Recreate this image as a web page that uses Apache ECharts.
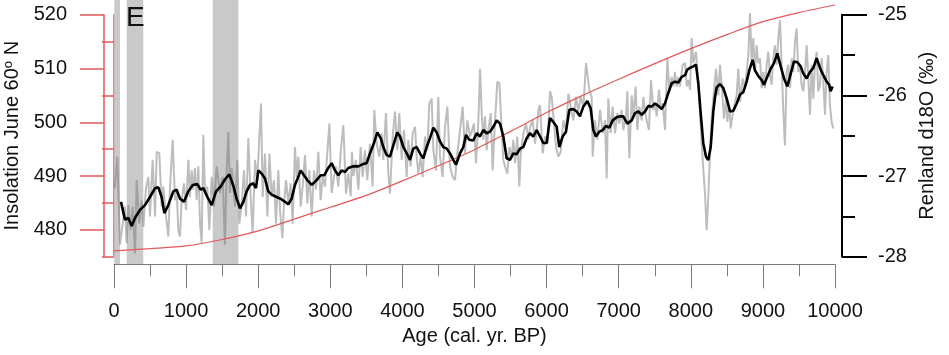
<!DOCTYPE html>
<html>
<head>
<meta charset="utf-8">
<script src="https://cdn.jsdelivr.net/npm/echarts@6/dist/echarts.min.js"></script>
<style>
html,body{margin:0;padding:0;background:#fff;}
#chart{width:949px;height:355px;}
</style>
</head>
<body>
<div id="chart"></div>
<script>
// ---- Data ----
var insolAge = [0,500,1000,1500,2000,2500,3000,3500,4000,4500,5000,5500,6000,6500,7000,7500,8000,8500,9000,9500,10000];
var insolVal = [476.1,476.5,477.0,478.2,479.8,482.0,484.2,486.4,489.1,491.9,494.9,498.3,501.8,505.0,508.0,510.9,513.7,516.3,518.7,520.4,521.8];

var smoothAge = [97,152,199,245,291,360,430,499,569,615,661,698,753,823,869,915,971,1031,1092,1156,1202,1239,1295,1355,1415,1480,1540,1599,1655,1701,1748,1794,1840,1886,1932,1969,2002,2048,2094,2140,2187,2256,2326,2372,2418,2464,2510,2556,2589,2635,2681,2742,2811,2867,2917,2972,3019,3065,3111,3158,3204,3250,3319,3388,3458,3504,3550,3606,3652,3699,3735,3782,3828,3874,3929,3967,4013,4060,4105,4151,4198,4244,4290,4337,4383,4429,4476,4521,4567,4614,4660,4706,4743,4799,4845,4882,4928,4983,5031,5076,5122,5169,5215,5261,5308,5354,5400,5446,5492,5538,5585,5631,5677,5724,5770,5816,5863,5909,5954,6001,6047,6093,6140,6176,6223,6269,6315,6370,6417,6463,6509,6565,6611,6648,6685,6731,6778,6824,6870,6917,6972,7018,7064,7120,7180,7226,7272,7319,7365,7411,7458,7504,7550,7596,7642,7688,7735,7781,7827,7874,7920,7951,7989,8035,8072,8104,8137,8173,8211,8243,8276,8312,8336,8359,8405,8451,8498,8544,8590,8637,8683,8728,8775,8811,8858,8890,8936,8983,9015,9061,9108,9154,9200,9247,9293,9339,9386,9431,9478,9524,9561,9607,9653,9699,9746,9792,9838,9884,9920,9939,9966];
var smoothVal = [-27.32,-27.54,-27.52,-27.62,-27.52,-27.42,-27.36,-27.26,-27.15,-27.14,-27.26,-27.46,-27.36,-27.19,-27.17,-27.28,-27.32,-27.19,-27.11,-27.10,-27.17,-27.15,-27.26,-27.36,-27.19,-27.13,-27.04,-26.98,-27.12,-27.28,-27.40,-27.32,-27.19,-27.11,-27.09,-27.15,-26.93,-26.97,-27.03,-27.19,-27.23,-27.26,-27.29,-27.32,-27.35,-27.28,-27.11,-27.01,-26.93,-26.99,-27.05,-27.11,-27.05,-26.99,-26.99,-26.90,-26.84,-26.93,-26.99,-26.93,-26.95,-26.90,-26.88,-26.88,-26.85,-26.84,-26.72,-26.59,-26.46,-26.53,-26.64,-26.74,-26.76,-26.62,-26.46,-26.51,-26.64,-26.72,-26.80,-26.66,-26.64,-26.72,-26.78,-26.64,-26.53,-26.40,-26.46,-26.57,-26.64,-26.66,-26.72,-26.80,-26.86,-26.72,-26.64,-26.49,-26.55,-26.56,-26.47,-26.51,-26.43,-26.47,-26.45,-26.39,-26.31,-26.35,-26.51,-26.78,-26.80,-26.72,-26.73,-26.66,-26.64,-26.53,-26.47,-26.51,-26.43,-26.51,-26.59,-26.59,-26.28,-26.33,-26.39,-26.64,-26.51,-26.45,-26.18,-26.17,-26.20,-26.26,-26.14,-26.07,-26.16,-26.43,-26.51,-26.45,-26.43,-26.38,-26.40,-26.31,-26.27,-26.26,-26.26,-26.35,-26.31,-26.22,-26.20,-26.24,-26.20,-26.13,-26.14,-26.10,-26.13,-26.17,-26.10,-25.97,-25.85,-25.83,-25.84,-25.77,-25.75,-25.68,-25.66,-25.64,-25.62,-25.85,-26.22,-26.59,-26.76,-26.80,-26.64,-26.20,-26.02,-25.90,-25.86,-25.91,-26.04,-26.20,-26.19,-26.10,-25.99,-25.96,-25.83,-25.69,-25.56,-25.69,-25.76,-25.81,-25.87,-25.77,-25.67,-25.60,-25.48,-25.64,-25.79,-25.89,-25.73,-25.58,-25.59,-25.64,-25.73,-25.79,-25.71,-25.66,-25.54,-25.66,-25.75,-25.83,-25.87,-25.95,-25.89];

var rawAge = [10,46,83,152,176,199,231,259,291,314,351,384,407,444,476,499,536,569,592,629,661,684,721,754,777,814,846,869,892,915,938,971,999,1031,1054,1077,1100,1123,1146,1170,1193,1216,1239,1262,1294,1322,1354,1387,1424,1470,1507,1539,1562,1586,1609,1632,1655,1678,1711,1738,1771,1803,1831,1863,1896,1923,1956,1988,2016,2039,2062,2094,2127,2155,2187,2219,2247,2279,2302,2335,2358,2386,2418,2450,2478,2510,2534,2557,2589,2617,2649,2682,2709,2742,2774,2802,2834,2866,2894,2927,2959,2987,3019,3051,3079,3111,3144,3181,3218,3250,3283,3300,3320,3356,3389,3421,3449,3481,3513,3550,3587,3610,3643,3680,3712,3735,3772,3805,3828,3865,3897,3929,3957,3990,4022,4059,4082,4114,4142,4175,4198,4221,4253,4281,4313,4346,4373,4406,4429,4466,4498,4521,4558,4591,4623,4660,4697,4729,4762,4799,4836,4868,4900,4937,4961,4993,5021,5054,5077,5100,5123,5146,5169,5192,5225,5252,5285,5317,5345,5377,5400,5423,5456,5483,5516,5539,5562,5594,5622,5641,5678,5715,5747,5770,5807,5839,5863,5886,5909,5946,5978,6011,6048,6071,6094,6131,6163,6195,6232,6269,6302,6334,6371,6408,6440,6473,6510,6547,6565,6593,6625,6639,6671,6704,6741,6778,6810,6833,6856,6889,6916,6949,6981,7009,7041,7064,7101,7120,7148,7180,7203,7235,7258,7286,7319,7342,7365,7388,7420,7448,7480,7503,7527,7559,7582,7610,7642,7675,7702,7735,7758,7781,7804,7827,7850,7887,7920,7943,7966,7989,8012,8035,8072,8104,8128,8165,8197,8220,8243,8266,8289,8321,8349,8382,8405,8432,8460,8488,8506,8534,8553,8580,8613,8636,8659,8682,8719,8751,8775,8798,8821,8844,8867,8890,8913,8936,8959,8983,9006,9029,9052,9075,9098,9121,9144,9167,9191,9214,9237,9260,9283,9306,9329,9352,9376,9399,9422,9445,9468,9491,9514,9537,9560,9584,9607,9630,9653,9676,9699,9722,9745,9768,9791,9815,9838,9861,9884,9907,9930,9953,9976];
var rawVal = [-27.15,-26.76,-27.85,-27.38,-27.83,-27.36,-27.67,-27.38,-27.96,-27.05,-27.59,-27.30,-27.63,-27.15,-27.01,-27.50,-26.80,-27.50,-26.70,-26.72,-27.38,-27.13,-27.50,-27.75,-27.13,-26.55,-27.30,-27.17,-27.67,-27.75,-27.30,-27.09,-27.42,-26.80,-27.26,-26.93,-27.17,-26.90,-27.30,-26.88,-27.59,-27.83,-26.49,-27.21,-27.13,-27.67,-27.01,-27.38,-26.88,-27.21,-27.01,-27.85,-26.97,-26.45,-27.21,-26.90,-26.88,-27.38,-26.80,-27.59,-27.34,-26.93,-27.50,-26.53,-27.26,-27.71,-26.80,-27.05,-26.51,-26.10,-27.26,-26.72,-27.50,-26.72,-27.26,-27.05,-27.59,-26.93,-27.42,-27.77,-27.34,-27.05,-27.34,-27.09,-27.59,-26.64,-27.01,-26.76,-27.38,-27.13,-26.74,-27.34,-26.93,-27.50,-26.93,-27.17,-26.70,-27.30,-27.01,-27.13,-26.70,-26.35,-27.21,-27.01,-26.88,-27.13,-26.70,-26.37,-27.22,-26.97,-27.25,-26.70,-27.00,-26.80,-27.17,-26.64,-27.01,-26.68,-27.05,-26.60,-27.13,-26.18,-26.60,-26.76,-26.47,-26.80,-26.22,-26.97,-27.22,-26.51,-26.20,-26.68,-26.22,-26.80,-26.43,-27.01,-26.55,-26.88,-26.47,-26.39,-26.76,-26.97,-26.76,-27.01,-26.51,-26.68,-26.10,-26.04,-26.68,-26.93,-26.02,-26.76,-27.01,-26.39,-26.14,-26.88,-27.01,-27.05,-26.72,-26.43,-26.14,-26.72,-26.31,-26.51,-26.45,-26.35,-26.84,-26.31,-25.67,-26.22,-26.55,-26.26,-26.68,-26.43,-26.22,-26.93,-26.31,-25.83,-25.85,-26.43,-26.80,-26.88,-26.97,-26.64,-26.76,-26.55,-26.84,-26.51,-27.13,-26.72,-26.47,-26.35,-26.55,-26.39,-26.31,-26.60,-26.43,-26.18,-26.12,-26.72,-26.51,-26.60,-25.95,-26.02,-26.26,-26.64,-26.76,-26.70,-26.31,-26.43,-25.98,-26.14,-26.31,-26.02,-26.20,-26.02,-26.14,-25.60,-25.73,-25.93,-26.02,-26.76,-26.31,-26.55,-26.18,-26.47,-26.31,-27.03,-26.04,-26.47,-26.14,-26.47,-26.22,-26.35,-26.18,-26.43,-26.26,-25.95,-26.78,-26.00,-26.26,-25.89,-26.43,-26.14,-26.31,-26.02,-26.18,-26.31,-26.43,-25.81,-26.18,-26.10,-26.26,-25.93,-26.14,-26.10,-26.43,-25.54,-25.93,-25.77,-25.89,-25.71,-25.89,-25.77,-25.89,-25.62,-25.60,-25.89,-25.81,-25.93,-25.29,-25.60,-25.46,-25.85,-26.22,-26.80,-27.22,-27.67,-27.26,-26.72,-26.30,-25.95,-25.67,-26.00,-25.62,-25.91,-26.29,-26.04,-26.33,-26.12,-26.41,-26.24,-26.08,-26.00,-25.67,-26.08,-25.79,-25.91,-25.71,-25.50,-24.98,-25.58,-25.29,-25.71,-25.38,-25.60,-25.54,-25.91,-25.71,-25.91,-25.62,-25.46,-25.75,-25.87,-25.54,-25.38,-25.62,-25.29,-25.07,-25.62,-26.20,-26.62,-25.71,-25.62,-25.91,-25.54,-25.71,-25.34,-25.17,-25.71,-25.62,-25.87,-25.95,-25.71,-25.38,-25.79,-26.24,-25.62,-26.04,-25.62,-25.46,-25.95,-25.87,-25.54,-25.83,-26.24,-25.71,-25.50,-26.12,-26.33,-26.41];

var bandStart = [4, 176, 1369];
var bandEnd = [83, 406, 1724];

var insolMajor = [480,490,500,510,520];
var insolMinor = [475,485,495,505,515];

function zip(a, b) { return a.map(function (v, i) { return [v, b[i]]; }); }

var FONT = 'Liberation Sans, Arial, sans-serif';
var RED = '#e2585b';

var chart = echarts.init(document.getElementById('chart'), null, {renderer: 'canvas'});

var option = {
  backgroundColor: '#ffffff',
  animation: false,
  textStyle: {fontFamily: FONT},
  grid: [
    {left: 114, right: 114, top: 14.7, bottom: 98.3, containLabel: false, outerBoundsMode: 'none'},
    {left: 114, right: 114, top: 0, bottom: 91, containLabel: false, outerBoundsMode: 'none'}
  ],
  xAxis: [
    {
      type: 'value', gridIndex: 0, min: 0, max: 10000, interval: 1000,
      position: 'bottom', offset: 7.6,
      axisLine: {show: true, lineStyle: {color: '#7a7a7a', width: 1}},
      axisTick: {show: true, length: 24, lineStyle: {color: '#7a7a7a', width: 1}},
      minorTick: {show: true, splitNumber: 2, length: 12, lineStyle: {color: '#7a7a7a', width: 1}},
      splitLine: {show: false},
      minorSplitLine: {show: false},
      axisLabel: {fontSize: 20, color: '#111', margin: 37, fontFamily: FONT,
        formatter: function (v) { return String(v); }},
      name: 'Age (cal. yr. BP)', nameLocation: 'middle', nameGap: 58,
      nameTextStyle: {fontSize: 20, color: '#111', fontFamily: FONT}
    },
    {
      type: 'value', gridIndex: 1, min: 0, max: 10000, show: false
    }
  ],
  yAxis: [
    {
      type: 'value', gridIndex: 0, min: 475, max: 520, position: 'left', offset: 10,
      axisLine: {show: true, lineStyle: {color: RED, width: 1.5}},
      axisTick: {show: true, length: 12, customValues: insolMinor, lineStyle: {color: RED, width: 1.5}},
      axisLabel: {show: false},
      splitLine: {show: false}
    },
    {
      type: 'value', gridIndex: 0, min: 475, max: 520, position: 'left', offset: 10,
      axisLine: {show: true, lineStyle: {color: RED, width: 1.5}},
      axisTick: {show: true, length: 24, customValues: insolMajor, lineStyle: {color: RED, width: 1.5}},
      axisLabel: {show: true, customValues: insolMajor, fontSize: 20, color: '#111', margin: 37, fontFamily: FONT},
      splitLine: {show: false},
      name: 'Insolation June 60{sup|o} N', nameLocation: 'middle', nameRotate: 90, nameGap: 76,
      nameTextStyle: {fontSize: 20, color: '#111', fontFamily: FONT,
        rich: {sup: {fontSize: 13, color: '#111', fontFamily: FONT, verticalAlign: 'top', padding: [0, 0, 8, 0]}}}
    },
    {
      type: 'value', gridIndex: 0, min: -28, max: -25, interval: 1, position: 'right', offset: 7,
      axisLine: {show: true, lineStyle: {color: '#000', width: 2}},
      axisTick: {show: true, length: 25, lineStyle: {color: '#000', width: 2}},
      minorTick: {show: true, splitNumber: 2, length: 13, lineStyle: {color: '#000', width: 2}},
      minorSplitLine: {show: false},
      axisLabel: {fontSize: 20, color: '#111', margin: 36, fontFamily: FONT},
      splitLine: {show: false},
      name: 'Renland d18O (\u2030)', nameLocation: 'middle', nameRotate: 90, nameGap: 72,
      nameTextStyle: {fontSize: 20, color: '#111', fontFamily: FONT}
    },
    {
      type: 'value', gridIndex: 1, min: 0, max: 1, show: false
    }
  ],
  graphic: [
    {type: 'text', left: 126, top: 4, z: 100, zlevel: 0, style: {text: 'E', fontSize: 28, fontFamily: FONT, fill: '#111'}}
  ],
  series: [
    {
      type: 'line', xAxisIndex: 1, yAxisIndex: 3, data: [[0, 0]], showSymbol: false, silent: true,
      lineStyle: {opacity: 0}, z: 1,
      markArea: {
        silent: true,
        itemStyle: {color: '#c9c9c9'},
        data: bandStart.map(function (s, i) { return [{xAxis: s}, {xAxis: bandEnd[i]}]; })
      }
    },
    {
      type: 'line', xAxisIndex: 0, yAxisIndex: 2, data: zip(rawAge, rawVal), showSymbol: false,
      clip: false, z: 3,
      lineStyle: {color: 'rgba(115,115,115,0.47)', width: 2}
    },
    {
      type: 'line', xAxisIndex: 0, yAxisIndex: 0, data: zip(insolAge, insolVal), showSymbol: false,
      smooth: 0.3, clip: false, z: 4,
      lineStyle: {color: RED, width: 1.2}
    },
    {
      type: 'line', xAxisIndex: 0, yAxisIndex: 2, data: zip(smoothAge, smoothVal), showSymbol: false,
      clip: false, z: 5,
      lineStyle: {color: '#000', width: 2.6}
    }
  ]
};
chart.setOption(option);
</script>
</body>
</html>
